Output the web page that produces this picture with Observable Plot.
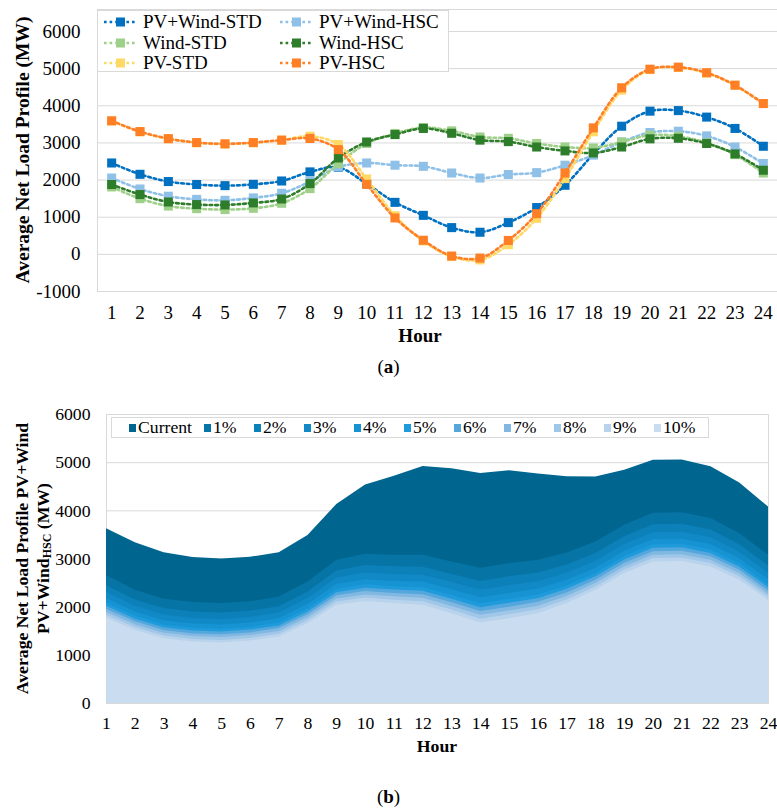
<!DOCTYPE html>
<html>
<head>
<meta charset="utf-8">
<script src="https://cdn.jsdelivr.net/npm/d3@7"></script>
<script src="https://cdn.jsdelivr.net/npm/@observablehq/plot@0.6"></script>
<style>
  body { margin: 0; background: #fff; font-family: "Liberation Serif", "Times New Roman", serif; color: #000; }
  #page { position: relative; width: 777px; height: 809px; overflow: hidden; background: #fff; }
  .chart { position: absolute; left: 0; }
  .legend { position: absolute; background: #fff; border: 1px solid #d9d9d9; box-sizing: border-box; }
  .caption { position: absolute; left: 0; width: 777px; text-align: center; font-size: 19px; line-height: 20px; }
  #legendA { left: 97px; top: 10px; width: 352px; height: 62px; padding: 1px 0 0 6px;
             display: grid; grid-template-columns: 176px auto; grid-auto-rows: 20.5px; font-size: 19px; }
  #legendA .item { display: flex; align-items: center; white-space: nowrap; }
  #legendA .item span { margin-left: 6px; }
  #legendB { left: 111px; top: 417px; width: 598px; height: 21px; padding-left: 17px;
             display: flex; align-items: center; font-size: 17.7px; }
  #legendB .item { display: flex; align-items: center; white-space: nowrap; width: 50px; }
  #legendB .item.first { width: 75px; }
  #legendB .sw { width: 7px; height: 8px; margin-right: 2px; flex: none; }
</style>
</head>
<body>
<div id="page"></div>
<script>
// ---------- shared ----------
const hours = [1, 2, 3, 4, 5, 6, 7, 8, 9, 10, 11, 12, 13, 14, 15, 16, 17, 18, 19, 20, 21, 22, 23, 24];
const serif = '"Liberation Serif", "Times New Roman", serif';

// ---------- (a) net load profiles by scenario (MW) ----------
const topTicks = [-1000, 0, 1000, 2000, 3000, 4000, 5000, 6000];
const pvWindStd = [2460, 2155, 1960, 1880, 1850, 1885, 1975, 2220, 2340, 1900, 1400, 1050, 720, 595, 855, 1260, 1860, 2700, 3450, 3855, 3870, 3695, 3390, 2910];
const pvWindHsc = [2055, 1760, 1565, 1480, 1455, 1520, 1645, 1960, 2350, 2460, 2400, 2370, 2190, 2055, 2150, 2200, 2400, 2670, 3025, 3280, 3315, 3190, 2890, 2445];
const windStd   = [1815, 1500, 1300, 1230, 1205, 1240, 1375, 1770, 2445, 2985, 3255, 3415, 3325, 3160, 3125, 2985, 2890, 2865, 3025, 3210, 3180, 3000, 2685, 2190];
const windHsc   = [1880, 1610, 1410, 1340, 1330, 1385, 1490, 1905, 2595, 3025, 3225, 3390, 3260, 3075, 3035, 2890, 2785, 2730, 2890, 3110, 3125, 2985, 2705, 2265];
const pvStd     = [3590, 3300, 3110, 3005, 2970, 3005, 3075, 3180, 2955, 2030, 1040, 360, -60, -150, 260, 970, 2040, 3300, 4420, 4975, 5030, 4880, 4550, 4060];
const pvHsc     = [3595, 3305, 3115, 3010, 2975, 3010, 3075, 3120, 2820, 1885, 980, 380, -45, -100, 375, 1095, 2190, 3405, 4485, 4985, 5040, 4890, 4555, 4060];

const seriesNames  = ["PV+Wind-STD", "PV+Wind-HSC", "Wind-STD", "Wind-HSC", "PV-STD", "PV-HSC"];
const seriesValues = [pvWindStd, pvWindHsc, windStd, windHsc, pvStd, pvHsc];
const seriesColors = ["#0070c0", "#8ec0e8", "#9fd08a", "#2e7d2a", "#ffd966", "#ff7f27"];

// ---------- (b) net load with increasing HSC share (MW) ----------
const bottomTicks = [0, 1000, 2000, 3000, 4000, 5000, 6000];
const layerNames = ["Current", "1%", "2%", "3%", "4%", "5%", "6%", "7%", "8%", "9%", "10%"];
const layerColors = ["#00658f", "#0774a6", "#0c80b9", "#1189c6", "#1693d2", "#1f9bdb", "#53a7dc", "#80b8e1", "#a0c6e8", "#b9d3ec", "#cadcef"];
const current = [3630, 3335, 3130, 3030, 3000, 3035, 3130, 3490, 4130, 4535, 4720, 4920, 4875, 4775, 4830, 4765, 4710, 4700, 4845, 5050, 5055, 4915, 4580, 4080];
const pct1  = [2660, 2350, 2165, 2095, 2075, 2110, 2210, 2525, 2975, 3100, 3080, 3080, 2940, 2810, 2905, 2975, 3125, 3355, 3700, 3950, 3960, 3840, 3530, 3080];
const pct2  = [2445, 2150, 1970, 1900, 1880, 1915, 2010, 2315, 2750, 2865, 2840, 2830, 2680, 2535, 2630, 2710, 2875, 3115, 3460, 3710, 3720, 3600, 3295, 2855];
const pct3  = [2305, 2020, 1835, 1765, 1745, 1785, 1880, 2180, 2600, 2710, 2680, 2665, 2510, 2355, 2445, 2530, 2705, 2955, 3300, 3545, 3555, 3440, 3140, 2705];
const pct4  = [2180, 1900, 1720, 1650, 1630, 1670, 1760, 2060, 2470, 2570, 2535, 2520, 2360, 2195, 2285, 2375, 2560, 2810, 3160, 3405, 3415, 3295, 3005, 2570];
const pct5  = [2080, 1810, 1630, 1560, 1540, 1580, 1670, 1965, 2365, 2465, 2425, 2405, 2240, 2070, 2160, 2255, 2440, 2700, 3050, 3295, 3305, 3185, 2900, 2470];
const pct6  = [2020, 1750, 1575, 1505, 1485, 1525, 1610, 1900, 2300, 2395, 2355, 2330, 2165, 1990, 2080, 2175, 2370, 2630, 2980, 3225, 3235, 3115, 2830, 2405];
const pct7  = [1955, 1695, 1515, 1445, 1425, 1465, 1555, 1840, 2235, 2325, 2285, 2260, 2090, 1910, 2000, 2100, 2295, 2560, 2910, 3150, 3160, 3045, 2765, 2335];
const pct8  = [1895, 1635, 1460, 1390, 1370, 1410, 1495, 1780, 2170, 2255, 2215, 2185, 2015, 1830, 1920, 2020, 2220, 2490, 2840, 3080, 3090, 2975, 2695, 2270];
const pct9  = [1830, 1580, 1400, 1330, 1310, 1350, 1440, 1720, 2105, 2190, 2145, 2115, 1940, 1750, 1840, 1945, 2150, 2420, 2770, 3010, 3020, 2905, 2630, 2205];
const pct10 = [1770, 1520, 1345, 1275, 1255, 1295, 1380, 1660, 2040, 2120, 2075, 2040, 1865, 1670, 1760, 1865, 2075, 2350, 2700, 2940, 2950, 2835, 2560, 2140];
const layerValues = [current, pct1, pct2, pct3, pct4, pct5, pct6, pct7, pct8, pct9, pct10];

const page = document.getElementById("page");

function svgOf(node) {
  return d3.select(node.tagName.toLowerCase() === "svg" ? node : node.querySelector("svg"));
}
function addTitle(svg, x, y, rotate, size, text) {
  return svg.append("text")
    .attr("transform", `translate(${x},${y})` + (rotate ? ` rotate(${rotate})` : ""))
    .attr("text-anchor", "middle").attr("dominant-baseline", "central")
    .attr("font-family", serif).attr("font-size", size).attr("font-weight", "bold")
    .attr("fill", "#000")
    .text(text);
}

// ---------- chart (a): dotted smoothed lines with square markers ----------
const topMarks = [
  Plot.gridY(topTicks, {stroke: "#d9d9d9", strokeOpacity: 1, strokeWidth: 1}),
  Plot.frame({stroke: "#d9d9d9", strokeWidth: 1})
];
seriesValues.forEach((vals, k) => {
  const rows = hours.map((h, i) => ({hour: h, value: vals[i]}));
  topMarks.push(Plot.line(rows, {x: "hour", y: "value", stroke: seriesColors[k], strokeWidth: 2.6,
    strokeDasharray: "2.6 3", curve: "catmull-rom"}));
  topMarks.push(Plot.dot(rows, {x: "hour", y: "value", symbol: "square", r: 5.1, fill: seriesColors[k]}));
});

const chartA = Plot.plot({
  width: 777, height: 350,
  marginTop: 9, marginBottom: 59, marginLeft: 97, marginRight: 0,
  style: {fontFamily: serif, fontSize: "19px", color: "#000", background: "transparent", overflow: "visible"},
  x: {domain: [0.5, 24.5], ticks: hours, tickFormat: d => String(d), tickSize: 0, tickPadding: 14, label: null},
  y: {domain: [-1000, 6592], ticks: topTicks, tickFormat: d => String(d), tickSize: 0, tickPadding: 17, label: null},
  marks: topMarks
});
chartA.classList.add("chart");
chartA.style.top = "0px";
page.appendChild(chartA);

const svgA = svgOf(chartA);
addTitle(svgA, 420, 335, 0, 19, "Hour");
addTitle(svgA, 22, 150, -90, 19.5, "Average Net Load Profile (MW)");

// legend (a)
const legA = document.createElement("div");
legA.className = "legend";
legA.id = "legendA";
seriesNames.forEach((name, k) => {
  const c = seriesColors[k];
  const item = document.createElement("div");
  item.className = "item";
  item.innerHTML =
    `<svg width="33" height="12" style="flex:none"><line x1="0" y1="6" x2="33" y2="6" stroke="${c}" stroke-width="2.6" stroke-dasharray="2.6 3"/>` +
    `<rect x="12" y="1.5" width="9" height="9" fill="${c}"/></svg><span>${name}</span>`;
  legA.appendChild(item);
});
page.appendChild(legA);

const capA = document.createElement("div");
capA.className = "caption";
capA.style.top = "357px";
capA.innerHTML = "(<b>a</b>)";
page.appendChild(capA);

// ---------- chart (b): overlapping area layers ----------
const bottomMarks = [
  Plot.gridY(bottomTicks, {stroke: "#d9d9d9", strokeOpacity: 1, strokeWidth: 1}),
  Plot.frame({stroke: "#d9d9d9", strokeWidth: 1})
];
layerValues.forEach((vals, k) => {
  const rows = hours.map((h, i) => ({hour: h, value: vals[i]}));
  bottomMarks.push(Plot.areaY(rows, {x: "hour", y: "value", fill: layerColors[k], fillOpacity: 1}));
});

const chartB = Plot.plot({
  width: 777, height: 370,
  marginTop: 24, marginBottom: 57, marginLeft: 106, marginRight: 9,
  style: {fontFamily: serif, fontSize: "17.7px", color: "#000", background: "transparent", overflow: "visible"},
  x: {domain: [1, 24], ticks: hours, tickFormat: d => String(d), tickSize: 0, tickPadding: 13, label: null},
  y: {domain: [0, 6000], ticks: bottomTicks, tickFormat: d => String(d), tickSize: 0, tickPadding: 16, label: null},
  marks: bottomMarks
});
chartB.classList.add("chart");
chartB.style.top = "390px";
page.appendChild(chartB);

const svgB = svgOf(chartB);
const midB = 24 + (370 - 24 - 57) / 2;
addTitle(svgB, 437, 356, 0, 17.7, "Hour");
addTitle(svgB, 22, midB, -90, 17.7, "Average Net Load Profile PV+Wind");
const t2 = addTitle(svgB, 43, midB, -90, 17.7, "");
t2.append("tspan").text("PV+Wind");
t2.append("tspan").attr("font-size", 12).attr("dy", 4).text("HSC");
t2.append("tspan").attr("dy", -4).text(" (MW)");

// legend (b)
const legB = document.createElement("div");
legB.className = "legend";
legB.id = "legendB";
layerNames.forEach((name, k) => {
  const item = document.createElement("div");
  item.className = "item" + (k === 0 ? " first" : "");
  item.innerHTML = `<div class="sw" style="background:${layerColors[k]}"></div><span>${name}</span>`;
  legB.appendChild(item);
});
page.appendChild(legB);

const capB = document.createElement("div");
capB.className = "caption";
capB.style.top = "787px";
capB.innerHTML = "(<b>b</b>)";
page.appendChild(capB);
</script>
</body>
</html>
